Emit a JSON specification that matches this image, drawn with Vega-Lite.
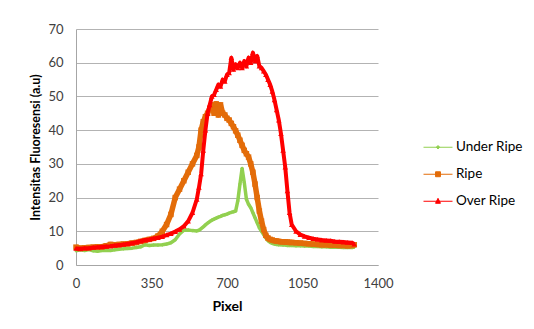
{
  "$schema": "https://vega.github.io/schema/vega-lite/v6.json",
  "width": 302,
  "height": 236,
  "autosize": {"type": "none"},
  "padding": {"left": 76, "top": 29, "right": 156, "bottom": 64},
  "background": "white",
  "config": {
    "view": {"stroke": null},
    "font": "Lato",
    "axis": {"labelFont": "Lato", "titleFont": "Lato", "labelColor": "#404040", "titleColor": "#000000"}
  },
  "data": {
    "values": [
      {"p": 0, "Under Ripe": 4.2, "Ripe": 5.3, "Over Ripe": 4.9},
      {"p": 20, "Under Ripe": 4.5, "Ripe": 5.0, "Over Ripe": 4.8},
      {"p": 40, "Under Ripe": 4.3, "Ripe": 5.1, "Over Ripe": 5.0},
      {"p": 60, "Under Ripe": 4.6, "Ripe": 5.2, "Over Ripe": 5.0},
      {"p": 80, "Under Ripe": 4.2, "Ripe": 5.3, "Over Ripe": 5.2},
      {"p": 100, "Under Ripe": 4.1, "Ripe": 5.4, "Over Ripe": 5.3},
      {"p": 120, "Under Ripe": 4.3, "Ripe": 5.4, "Over Ripe": 5.4},
      {"p": 140, "Under Ripe": 4.4, "Ripe": 5.7, "Over Ripe": 5.5},
      {"p": 160, "Under Ripe": 4.3, "Ripe": 6.1, "Over Ripe": 5.6},
      {"p": 180, "Under Ripe": 4.5, "Ripe": 6.0, "Over Ripe": 5.8},
      {"p": 200, "Under Ripe": 4.7, "Ripe": 6.1, "Over Ripe": 5.9},
      {"p": 220, "Under Ripe": 4.8, "Ripe": 6.2, "Over Ripe": 6.1},
      {"p": 240, "Under Ripe": 4.9, "Ripe": 6.3, "Over Ripe": 6.3},
      {"p": 260, "Under Ripe": 5.0, "Ripe": 6.5, "Over Ripe": 6.5},
      {"p": 280, "Under Ripe": 5.2, "Ripe": 6.7, "Over Ripe": 6.8},
      {"p": 300, "Under Ripe": 5.4, "Ripe": 7.0, "Over Ripe": 7.1},
      {"p": 320, "Under Ripe": 6.0, "Ripe": 7.3, "Over Ripe": 7.4},
      {"p": 340, "Under Ripe": 5.8, "Ripe": 7.6, "Over Ripe": 7.6},
      {"p": 360, "Under Ripe": 5.9, "Ripe": 7.9, "Over Ripe": 7.9},
      {"p": 380, "Under Ripe": 5.9, "Ripe": 8.6, "Over Ripe": 8.1},
      {"p": 400, "Under Ripe": 6.0, "Ripe": 10.0, "Over Ripe": 8.4},
      {"p": 420, "Under Ripe": 6.2, "Ripe": 12.0, "Over Ripe": 8.9},
      {"p": 440, "Under Ripe": 6.6, "Ripe": 15.0, "Over Ripe": 9.3},
      {"p": 460, "Under Ripe": 7.5, "Ripe": 20.0, "Over Ripe": 9.9},
      {"p": 480, "Under Ripe": 9.2, "Ripe": 22.5, "Over Ripe": 10.6},
      {"p": 500, "Under Ripe": 10.3, "Ripe": 25.0, "Over Ripe": 11.5},
      {"p": 520, "Under Ripe": 10.4, "Ripe": 27.5, "Over Ripe": 13.0},
      {"p": 540, "Under Ripe": 10.2, "Ripe": 30.0, "Over Ripe": 15.5},
      {"p": 560, "Under Ripe": 10.1, "Ripe": 32.5, "Over Ripe": 19.5},
      {"p": 570, "Under Ripe": 10.3, "Ripe": 35.0, "Over Ripe": 23.0},
      {"p": 580, "Under Ripe": 10.8, "Ripe": 40.0, "Over Ripe": 27.0},
      {"p": 590, "Under Ripe": 11.3, "Ripe": 42.5, "Over Ripe": 34.0},
      {"p": 600, "Under Ripe": 11.9, "Ripe": 44.0, "Over Ripe": 40.0},
      {"p": 610, "Under Ripe": 12.4, "Ripe": 45.0, "Over Ripe": 45.0},
      {"p": 620, "Under Ripe": 12.9, "Ripe": 46.5, "Over Ripe": 47.5},
      {"p": 630, "Under Ripe": 13.3, "Ripe": 47.5, "Over Ripe": 50.0},
      {"p": 640, "Under Ripe": 13.6, "Ripe": 45.0, "Over Ripe": 50.5},
      {"p": 650, "Under Ripe": 13.9, "Ripe": 47.8, "Over Ripe": 52.0},
      {"p": 660, "Under Ripe": 14.2, "Ripe": 44.5, "Over Ripe": 53.5},
      {"p": 670, "Under Ripe": 14.4, "Ripe": 47.5, "Over Ripe": 53.0},
      {"p": 680, "Under Ripe": 14.7, "Ripe": 45.0, "Over Ripe": 55.0},
      {"p": 690, "Under Ripe": 14.9, "Ripe": 44.5, "Over Ripe": 54.5},
      {"p": 700, "Under Ripe": 15.1, "Ripe": 43.5, "Over Ripe": 56.5},
      {"p": 710, "Under Ripe": 15.4, "Ripe": 43.0, "Over Ripe": 57.0},
      {"p": 720, "Under Ripe": 15.6, "Ripe": 42.0, "Over Ripe": 61.5},
      {"p": 730, "Under Ripe": 15.8, "Ripe": 41.0, "Over Ripe": 58.0},
      {"p": 740, "Under Ripe": 16.0, "Ripe": 39.8, "Over Ripe": 59.5},
      {"p": 750, "Under Ripe": 19.0, "Ripe": 38.5, "Over Ripe": 58.5},
      {"p": 760, "Under Ripe": 24.0, "Ripe": 37.0, "Over Ripe": 60.0},
      {"p": 770, "Under Ripe": 28.6, "Ripe": 35.5, "Over Ripe": 58.5},
      {"p": 780, "Under Ripe": 24.5, "Ripe": 34.0, "Over Ripe": 60.5},
      {"p": 790, "Under Ripe": 19.5, "Ripe": 33.0, "Over Ripe": 59.0},
      {"p": 800, "Under Ripe": 18.0, "Ripe": 32.0, "Over Ripe": 61.5},
      {"p": 810, "Under Ripe": 17.0, "Ripe": 30.0, "Over Ripe": 60.0},
      {"p": 820, "Under Ripe": 15.5, "Ripe": 27.5, "Over Ripe": 63.0},
      {"p": 830, "Under Ripe": 14.0, "Ripe": 24.0, "Over Ripe": 60.5},
      {"p": 840, "Under Ripe": 12.5, "Ripe": 20.0, "Over Ripe": 62.0},
      {"p": 850, "Under Ripe": 11.0, "Ripe": 16.0, "Over Ripe": 59.0},
      {"p": 860, "Under Ripe": 10.0, "Ripe": 13.0, "Over Ripe": 58.5},
      {"p": 870, "Under Ripe": 9.0, "Ripe": 10.5, "Over Ripe": 57.5},
      {"p": 880, "Under Ripe": 8.0, "Ripe": 8.8, "Over Ripe": 56.5},
      {"p": 890, "Under Ripe": 7.2, "Ripe": 8.0, "Over Ripe": 55.0},
      {"p": 900, "Under Ripe": 6.7, "Ripe": 7.6, "Over Ripe": 53.5},
      {"p": 910, "Under Ripe": 6.4, "Ripe": 7.4, "Over Ripe": 51.5},
      {"p": 920, "Under Ripe": 6.2, "Ripe": 7.2, "Over Ripe": 49.0},
      {"p": 930, "Under Ripe": 6.1, "Ripe": 7.1, "Over Ripe": 46.0},
      {"p": 940, "Under Ripe": 6.0, "Ripe": 7.0, "Over Ripe": 43.0},
      {"p": 950, "Under Ripe": 6.0, "Ripe": 6.9, "Over Ripe": 39.0},
      {"p": 960, "Under Ripe": 5.9, "Ripe": 6.9, "Over Ripe": 34.0},
      {"p": 970, "Under Ripe": 5.9, "Ripe": 6.8, "Over Ripe": 29.0},
      {"p": 980, "Under Ripe": 5.8, "Ripe": 6.8, "Over Ripe": 22.0},
      {"p": 990, "Under Ripe": 5.8, "Ripe": 6.7, "Over Ripe": 15.5},
      {"p": 1000, "Under Ripe": 5.8, "Ripe": 6.7, "Over Ripe": 12.0},
      {"p": 1020, "Under Ripe": 5.7, "Ripe": 6.6, "Over Ripe": 10.0},
      {"p": 1040, "Under Ripe": 5.7, "Ripe": 6.5, "Over Ripe": 9.0},
      {"p": 1060, "Under Ripe": 5.6, "Ripe": 6.4, "Over Ripe": 8.5},
      {"p": 1080, "Under Ripe": 5.6, "Ripe": 6.3, "Over Ripe": 8.1},
      {"p": 1100, "Under Ripe": 5.5, "Ripe": 6.2, "Over Ripe": 7.8},
      {"p": 1120, "Under Ripe": 5.5, "Ripe": 6.1, "Over Ripe": 7.6},
      {"p": 1140, "Under Ripe": 5.4, "Ripe": 6.0, "Over Ripe": 7.4},
      {"p": 1160, "Under Ripe": 5.4, "Ripe": 6.0, "Over Ripe": 7.3},
      {"p": 1180, "Under Ripe": 5.3, "Ripe": 5.9, "Over Ripe": 7.2},
      {"p": 1200, "Under Ripe": 5.3, "Ripe": 5.9, "Over Ripe": 7.0},
      {"p": 1220, "Under Ripe": 5.3, "Ripe": 5.8, "Over Ripe": 6.9},
      {"p": 1240, "Under Ripe": 5.2, "Ripe": 5.8, "Over Ripe": 6.8},
      {"p": 1260, "Under Ripe": 5.2, "Ripe": 5.7, "Over Ripe": 6.7},
      {"p": 1280, "Under Ripe": 5.2, "Ripe": 5.8, "Over Ripe": 6.6},
      {"p": 1290, "Under Ripe": 5.3, "Ripe": 6.0, "Over Ripe": 6.2}
    ]
  },
  "transform": [
    {"fold": ["Under Ripe", "Ripe", "Over Ripe"], "as": ["series", "value"]}
  ],
  "encoding": {
    "x": {
      "field": "p", "type": "quantitative",
      "scale": {"domain": [0, 1400], "nice": false, "zero": false},
      "axis": {
        "title": "Pixel", "values": [0, 350, 700, 1050, 1400], "format": "d",
        "grid": false, "ticks": false, "domainColor": "#a6a6a6", "domainWidth": 1,
        "labelFontSize": 13, "labelPadding": 12, "labelFlush": false,
        "titleFontSize": 14, "titleFontWeight": "bold", "titlePadding": 9
      }
    },
    "y": {
      "field": "value", "type": "quantitative",
      "scale": {"domain": [0, 70], "nice": false},
      "axis": {
        "title": "Intensitas Fluoresensi (a.u)", "values": [0, 10, 20, 30, 40, 50, 60, 70],
        "grid": true, "gridColor": "#b3b3b3", "gridWidth": 1,
        "ticks": false, "domainColor": "#a6a6a6", "domainWidth": 1,
        "labelFontSize": 13, "labelPadding": 13,
        "titleFontSize": 12.5, "titleFontWeight": "bold", "titlePadding": 5
      }
    },
    "color": {
      "field": "series", "type": "nominal",
      "scale": {"domain": ["Under Ripe", "Ripe", "Over Ripe"], "range": ["#92d050", "#e36c09", "#ff0000"]},
      "legend": {
        "title": null, "orient": "none", "legendX": 347, "legendY": 105,
        "symbolSize": 841, "symbolStrokeWidth": 1, "clipHeight": 26.5, "rowPadding": 0,
        "labelFont": "Lato", "labelFontSize": 13.5, "labelColor": "#000000", "labelOffset": 3,
        "encode": {
          "symbols": {
            "update": {
              "shape": {"signal": "datum.value === 'Under Ripe' ? 'M-1,0H1M-0.12,0L0,-0.12L0.12,0L0,0.12Z' : datum.value === 'Ripe' ? 'M-1,0H1M-0.17,-0.17H0.17V0.17H-0.17Z' : 'M-1,0H1M-0.17,0.14L0,-0.2L0.17,0.14Z'"},
              "fill": {"signal": "datum.value === 'Under Ripe' ? '#92d050' : datum.value === 'Ripe' ? '#e36c09' : '#ff0000'"},
              "stroke": {"signal": "datum.value === 'Under Ripe' ? '#92d050' : datum.value === 'Ripe' ? '#e36c09' : '#ff0000'"},
              "strokeWidth": {"value": 1},
              "opacity": {"value": 1}
            }
          }
        }
      }
    }
  },
  "layer": [
    {
      "transform": [{"filter": "datum.series === 'Under Ripe'"}],
      "mark": {"type": "line", "strokeWidth": 3.5, "strokeJoin": "round"},
      "encoding": {}
    },
    {
      "transform": [{"filter": "datum.series === 'Under Ripe'"}],
      "mark": {"type": "point", "filled": true, "size": 14, "shape": "diamond", "opacity": 1},
      "encoding": {}
    },
    {
      "transform": [{"filter": "datum.series === 'Ripe'"}],
      "mark": {"type": "line", "strokeWidth": 5.5, "strokeJoin": "round"},
      "encoding": {}
    },
    {
      "transform": [{"filter": "datum.series === 'Ripe'"}],
      "mark": {"type": "point", "filled": true, "size": 30, "shape": "square", "opacity": 1},
      "encoding": {}
    },
    {
      "transform": [{"filter": "datum.series === 'Over Ripe'"}],
      "mark": {"type": "line", "strokeWidth": 4, "strokeJoin": "round"},
      "encoding": {}
    },
    {
      "transform": [{"filter": "datum.series === 'Over Ripe'"}],
      "mark": {"type": "point", "filled": true, "size": 30, "shape": "triangle-up", "opacity": 1},
      "encoding": {}
    }
  ]
}
